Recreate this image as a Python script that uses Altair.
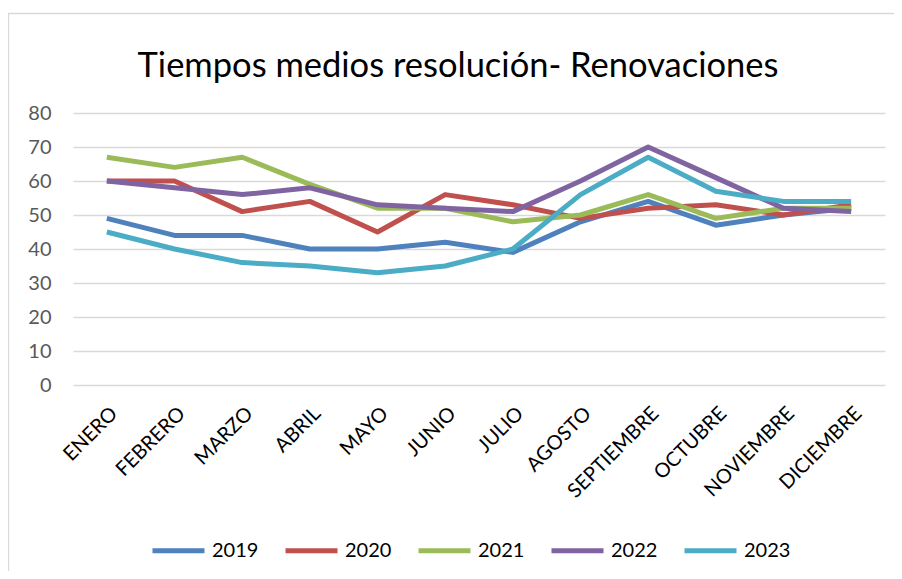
import altair as alt
import pandas as pd

meses = ["ENERO", "FEBRERO", "MARZO", "ABRIL", "MAYO", "JUNIO", "JULIO",
         "AGOSTO", "SEPTIEMBRE", "OCTUBRE", "NOVIEMBRE", "DICIEMBRE"]
anios = ["2019", "2020", "2021", "2022", "2023"]
v2019 = [49, 44, 44, 40, 40, 42, 39, 48, 54, 47, 50, 52]
v2020 = [60, 60, 51, 54, 45, 56, 53, 49, 52, 53, 50, 53]
v2021 = [67, 64, 67, 59, 52, 52, 48, 50, 56, 49, 52, 52]
v2022 = [60, 58, 56, 58, 53, 52, 51, 60, 70, 61, 52, 51]
v2023 = [45, 40, 36, 35, 33, 35, 40, 56, 67, 57, 54, 54]
colores = ["#4F81BD", "#C0504D", "#9BBB59", "#8064A2", "#4BACC6"]
titulo = "Tiempos medios resolución- Renovaciones"
y_ticks = [0, 10, 20, 30, 40, 50, 60, 70, 80]

series = [v2019, v2020, v2021, v2022, v2023]
rows = []
for anio, vals in zip(anios, series):
    for m, v in zip(meses, vals):
        rows.append({"mes": m, "anio": anio, "valor": v})
df = pd.DataFrame(rows)

FONT = "Lato"

lines = alt.Chart(df).mark_line(strokeWidth=5, strokeJoin="round").encode(
    x=alt.X("mes:N", sort=meses,
            scale=alt.Scale(type="point", padding=0.5),
            axis=alt.Axis(title=None, labelAngle=-45, labelFontSize=20, labelFont=FONT,
                          labelColor="#000000", labelPadding=18, domain=False, ticks=False,
                          grid=False)),
    y=alt.Y("valor:Q", scale=alt.Scale(domain=[0, 80], nice=False),
            axis=alt.Axis(title=None, values=y_ticks, labelFontSize=20, labelFont=FONT,
                          labelColor="#595959", labelPadding=22, domain=False, ticks=False,
                          grid=True, gridColor="#d9d9d9", gridWidth=1.3)),
    color=alt.Color("anio:N", sort=anios,
                    scale=alt.Scale(domain=anios, range=colores),
                    legend=alt.Legend(title=None, orient="none", legendX=77, legendY=409,
                                      direction="horizontal", columns=5,
                                      symbolType="stroke", symbolSize=2704,
                                      symbolStrokeWidth=5, labelFontSize=20,
                                      labelFont=FONT, labelColor="#000000",
                                      labelOffset=5, columnPadding=16)),
    detail="anio:N",
)

one = pd.DataFrame({"k": [0]})

frame = alt.Chart(one).mark_rect(fill="transparent", stroke="#d9d9d9", strokeWidth=1.3).encode(
    x=alt.value(-64.5), x2=alt.value(900), y=alt.value(-99.5), y2=alt.value(700)
)

title = alt.Chart(one).mark_text(font=FONT, fontSize=34.5, color="#000000",
                                 align="center", baseline="alphabetic").encode(
    x=alt.value(385), y=alt.value(-36), text=alt.value(titulo)
)

chart = alt.layer(frame, lines, title).properties(
    width=812, height=272,
    autosize=alt.AutoSizeParams(type="none"),
    padding={"left": 65, "top": 105, "right": 9, "bottom": 186},
    background="white",
).configure_view(stroke="transparent")

chart.save("out.html", embed_options={"renderer": "svg", "actions": False})
